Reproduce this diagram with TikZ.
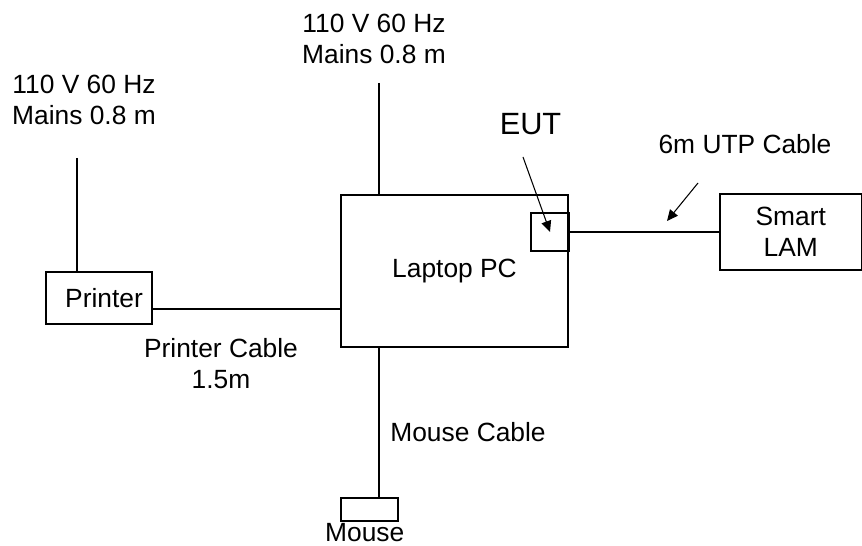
\documentclass[tikz,border=0pt]{standalone}
\usepackage{fontspec}
\setmainfont{Liberation Sans}
\usepackage{tikz}
\usetikzlibrary{arrows.meta, positioning}
\newcommand{\lblfont}{\fontsize{15}{17.6}\selectfont}
\newcommand{\eutfont}{\fontsize{17.5}{21}\selectfont}

\begin{document}
\begin{tikzpicture}[x=0.02cm, y=-0.02cm,
  box/.style={draw, rectangle, line width=0.6pt, inner sep=0pt, font=\lblfont, align=center},
  lbl/.style={font=\lblfont, align=center, inner sep=0pt},
  cable/.style={line width=0.6pt},
  pointer/.style={line width=0.6pt, -{Triangle[length=0.22cm, width=0.2cm]}}]

\useasboundingbox (0,0) rectangle (862,546);

% --- UNITS ---
\node (laptop) at (454.5,271) [box, minimum width=4.54cm, minimum height=3.04cm] {Laptop PC};
\node (eut) at (550,232) [box, minimum width=0.76cm, minimum height=0.76cm] {};
\node (lam) at (790.7,232) [box, minimum width=2.83cm, minimum height=1.52cm] {Smart\\LAM};
\node (printer) at (99,298) [box, minimum width=2.12cm, minimum height=1.04cm] {\hspace*{0.2cm}Printer};
\node (mouse) at (369.5,509.5) [box, minimum width=1.14cm, minimum height=0.46cm] {};

% --- LABELS ---
\node (mainsA) at (84,99.5) [lbl] {110 V 60 Hz\\Mains 0.8 m};
\node (mainsB) at (374,38.5) [lbl] {110 V 60 Hz\\Mains 0.8 m};
\node (eutlbl) at (530.5,135) [lbl, anchor=base, font=\eutfont] {EUT};
\node (utplbl) at (745,153.3) [lbl, anchor=base] {6m UTP Cable};
\node (prtlbl) at (221,363.2) [lbl] {Printer Cable\\1.5m};
\node (mslbl) at (468,441.7) [lbl, anchor=base] {Mouse Cable};
\node (mouselbl) at (364.7,541.5) [lbl, anchor=base] {Mouse};

% --- CABLES ---
\coordinate (plugA) at (77,158);
\coordinate (plugB) at (379,83);
\draw[cable] (plugA) -- (plugA |- printer.north);
\draw[cable] (plugB) -- (plugB |- laptop.north);
\draw[cable] (plugB |- laptop.south) -- (plugB |- mouse.north);
\draw[cable] ([yshift=-0.22cm]printer.east) -- ([yshift=-0.22cm]printer.east -| laptop.west);
\draw[cable] (eut) -- (lam);

% --- POINTERS ---
\coordinate (eutTail) at (523,157);
\coordinate (utpTail) at (698,183);
\coordinate (utpTip) at (667,221);
\draw[pointer] (eutTail) -- (eut.center);
\draw[pointer] (utpTail) -- (utpTip);

\end{tikzpicture}
\end{document}
